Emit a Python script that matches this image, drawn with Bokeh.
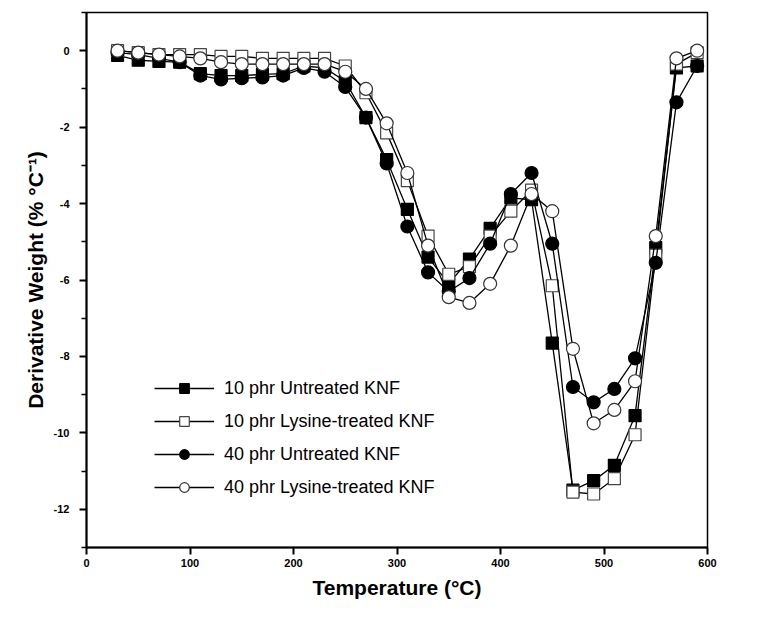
from bokeh.plotting import figure
from bokeh.models import Range1d, FixedTicker, Legend, LegendItem
from bokeh.embed import file_html
from bokeh.resources import INLINE

temperature = [30, 50, 70, 90, 110, 130, 150, 170, 190, 210, 230, 250, 270, 290, 310,
               330, 350, 370, 390, 410, 430, 450, 470, 490, 510, 530, 550, 570, 590]

untreated_10 = [-0.12, -0.25, -0.28, -0.3, -0.6, -0.65, -0.65, -0.62, -0.6, -0.4, -0.45, -0.8,
                -1.75, -2.85, -4.15, -5.4, -6.1, -5.45, -4.65, -3.85, -3.9, -7.65, -11.5,
                -11.25, -10.85, -9.55, -5.15, -0.45, -0.4]
lysine_10 = [0.0, -0.05, -0.1, -0.1, -0.1, -0.15, -0.15, -0.2, -0.2, -0.2, -0.2, -0.4,
             -1.1, -2.15, -3.4, -4.85, -5.85, -5.65, -4.85, -4.2, -3.65, -6.15, -11.55,
             -11.6, -11.2, -10.05, -5.35, -0.35, -0.05]
untreated_40 = [-0.05, -0.1, -0.2, -0.3, -0.65, -0.75, -0.72, -0.7, -0.65, -0.45, -0.55, -0.95,
                -1.75, -2.95, -4.6, -5.8, -6.3, -5.95, -5.05, -3.75, -3.2, -5.05, -8.8,
                -9.2, -8.85, -8.05, -5.55, -1.35, -0.4]
lysine_40 = [0.0, -0.05, -0.1, -0.15, -0.2, -0.3, -0.35, -0.35, -0.35, -0.35, -0.35, -0.55,
             -1.0, -1.9, -3.2, -5.1, -6.45, -6.6, -6.1, -5.1, -3.75, -4.2, -7.8,
             -9.75, -9.4, -8.65, -4.85, -0.2, 0.0]

labels = ["10 phr Untreated KNF", "10 phr Lysine-treated KNF",
          "40 phr Untreated KNF", "40 phr Lysine-treated KNF"]

x_ticks = [0, 100, 200, 300, 400, 500, 600]
y_ticks = [0, -2, -4, -6, -8, -10, -12]
y_tick_labels = ["0", "-2", "-4", "-6", "-8", "-10", "-12"]

p = figure(width=745, height=603, output_backend="svg", toolbar_location=None,
           x_range=Range1d(0, 600), y_range=Range1d(-13, 1),
           min_border_left=86, min_border_right=38, min_border_top=12, min_border_bottom=56)

p.xgrid.visible = False
p.ygrid.visible = False
p.outline_line_color = "black"
p.outline_line_width = 1.5
p.outline_line_alpha = 1
p.background_fill_color = "white"
p.border_fill_color = "white"

for ax in (p.xaxis[0], p.yaxis[0]):
    ax.axis_line_width = 2
    ax.major_tick_line_width = 2
    ax.minor_tick_line_width = 1.5
    ax.major_tick_out = 7
    ax.major_tick_in = 0
    ax.minor_tick_out = 5
    ax.minor_tick_in = 0
    ax.major_label_text_font = "Liberation Sans"
    ax.major_label_text_font_style = "bold"
    ax.major_label_text_font_size = "11px"
    ax.major_label_text_color = "black"
    ax.axis_label_text_font = "Liberation Sans"
    ax.axis_label_text_font_style = "bold"
    ax.axis_label_text_font_size = "21px"
    ax.axis_label_text_color = "black"

p.xaxis.ticker = FixedTicker(ticks=x_ticks)
p.yaxis.ticker = FixedTicker(ticks=y_ticks, minor_ticks=[1, -1, -3, -5, -7, -9, -11, -13])
p.yaxis.major_label_overrides = {t: s for t, s in zip(y_ticks, y_tick_labels)}
p.xaxis.major_label_standoff = 4
p.yaxis.major_label_standoff = 10
p.xaxis.axis_label = "Temperature (°C)"
p.yaxis.axis_label = "Derivative Weight (% °C⁻¹)"
p.xaxis.axis_label_standoff = 6
p.yaxis.axis_label_standoff = 4

series = [
    (untreated_10, "square", "black", "black"),
    (lysine_10, "square", "white", "#444444"),
    (untreated_40, "circle", "black", "black"),
    (lysine_40, "circle", "white", "#333333"),
]

items = []
for (ys, marker, fill, edge), lab in zip(series, labels):
    l = p.line(temperature, ys, line_color="black", line_width=1.3)
    m = p.scatter(temperature, ys, marker=marker, size=13 if marker == "circle" else 12,
                  fill_color=fill, line_color=edge, line_width=1.2)
    items.append(LegendItem(label=lab, renderers=[l, m]))

legend = Legend(items=items, location=(64, 44))
legend.background_fill_alpha = 0
legend.border_line_alpha = 0
legend.label_text_font = "Liberation Sans"
legend.label_text_font_size = "18px"
legend.label_text_color = "black"
legend.glyph_width = 60
legend.glyph_height = 24
legend.spacing = 9
legend.label_standoff = 10
legend.padding = 4
p.add_layout(legend, "center")

open("out.html", "w").write(file_html(p, INLINE))
